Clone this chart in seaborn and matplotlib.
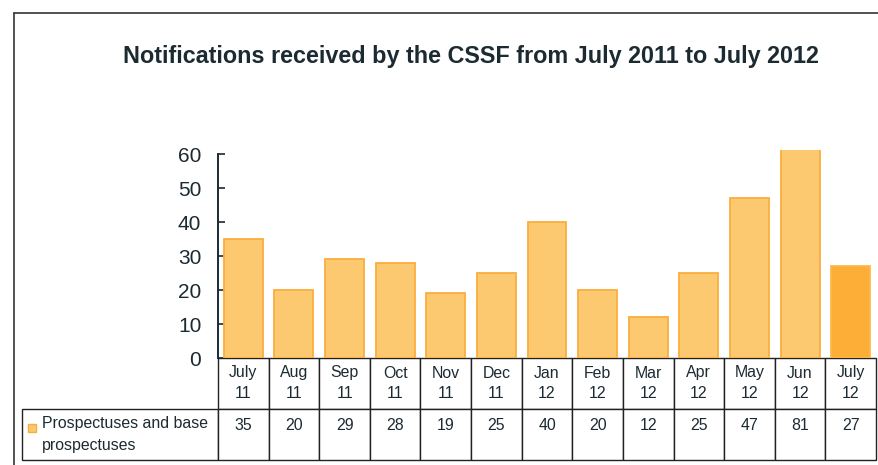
import matplotlib
matplotlib.use("Agg")
import matplotlib.pyplot as plt
from matplotlib.patches import Rectangle
from matplotlib.lines import Line2D
import numpy as np
import pandas as pd
import seaborn as sns

# data
months = ['July', 'Aug', 'Sep', 'Oct', 'Nov', 'Dec', 'Jan', 'Feb', 'Mar', 'Apr', 'May', 'Jun', 'July']
years = ['11', '11', '11', '11', '11', '11', '12', '12', '12', '12', '12', '12', '12']
values = [35, 20, 29, 28, 19, 25, 40, 20, 12, 25, 47, 81, 27]
series_name = 'Prospectuses and base\nprospectuses'
title = 'Notifications received by the CSSF from July 2011 to July 2012'

light = '#FCC971'
edge = '#FBAE3E'
dark = '#FDAE36'
text_col = '#1c2a31'

df = pd.DataFrame({'period': [f'{m} {y}' for m, y in zip(months, years)], 'value': values})
palette = [light] * (len(values) - 1) + [dark]

sns.set_style('white')
plt.rcParams['font.family'] = ['Liberation Sans', 'DejaVu Sans']

W, H = 879, 465
fig = plt.figure(figsize=(W / 100, H / 100), dpi=100)
ax = fig.add_axes([218 / W, 1 - 358 / H, 658 / W, 208 / H])

sns.barplot(data=df, x='period', y='value', hue='period', palette=palette,
            legend=False, width=0.77, ax=ax, saturation=1)
for i, p in enumerate(ax.patches):
    p.set_edgecolor(edge if i < len(values) - 1 else '#FDB84C')
    p.set_linewidth(1.3)

ax.set_xlim(-0.5, len(values) - 0.5)
ax.set_ylim(0, 61.2)
ax.set_yticks(range(0, 61, 10))
ax.set_xticks([])
ax.set_xlabel('')
ax.set_ylabel('')
sns.despine(ax=ax, bottom=True)
ax.spines['left'].set_bounds(0, 60)
ax.spines['left'].set_color(text_col)
ax.spines['left'].set_linewidth(1.4)
ax.tick_params(axis='y', direction='in', length=5, width=1.2, color=text_col,
               labelsize=15, labelcolor=text_col, pad=12, left=True)

# data table under the bars
col_w = np.array([196] + [50.6] * len(values))
col_w = col_w / col_w.sum()
cell_text = [[''] + [f'{m}\n{y}' for m, y in zip(months, years)],
             [series_name] + [f'{v}\n' for v in values]]
tbl = ax.table(cellText=cell_text, colWidths=list(col_w), cellLoc='center',
               bbox=[-196 / 658, -102 / 208, 1 + 196 / 658, 102 / 208])
tbl.auto_set_font_size(False)
tbl.set_fontsize(11.4)
for (r, c), cell in tbl.get_celld().items():
    cell.set_edgecolor('#222222')
    cell.set_linewidth(1.0)
    cell.get_text().set_color(text_col)
    if r == 0:
        cell.get_text().set_linespacing(1.5)
    else:
        cell.get_text().set_linespacing(1.3)
tbl[0, 0].visible_edges = ''
tbl[1, 0]._loc = 'left'
tbl[1, 0].get_text().set_ha('left')
tbl[1, 0].get_text().set_linespacing(1.6)

# legend key inside the table
fig.add_artist(Rectangle((28 / W, 1 - 432 / H), 8 / W, 8 / H, transform=fig.transFigure,
                         facecolor=light, edgecolor=edge, lw=1))

# outer frame (left and top edges)
fig.add_artist(Line2D([14 / W, 14 / W], [0, 1 - 13 / H], transform=fig.transFigure, color='#333333', lw=1.2))
fig.add_artist(Line2D([14 / W, 1], [1 - 13 / H, 1 - 13 / H], transform=fig.transFigure, color='#333333', lw=1.2))

fig.text(471 / W, 1 - 56 / H, title, ha='center', va='center', fontsize=16.8,
         fontweight='bold', color=text_col)

fig.savefig('out.png', dpi=100)
